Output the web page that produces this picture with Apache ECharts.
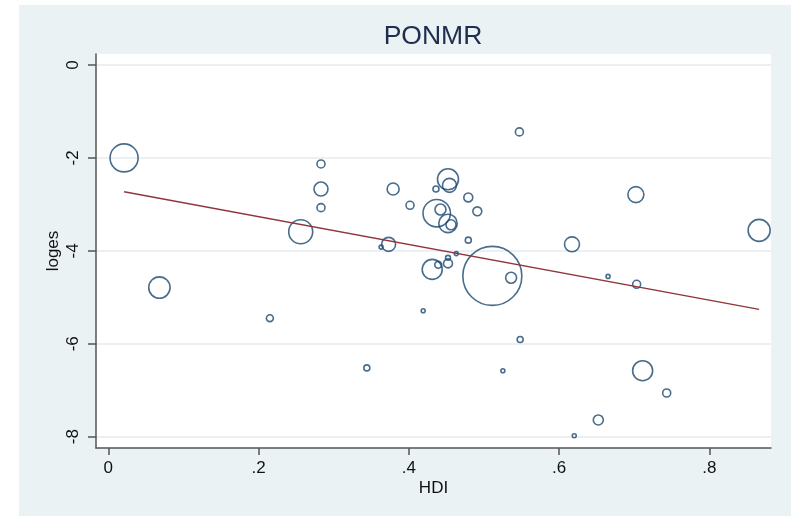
<!DOCTYPE html>
<html><head><meta charset="utf-8">
<script src="https://cdn.jsdelivr.net/npm/echarts@6/dist/echarts.min.js"></script>
<style>html,body{margin:0;padding:0;background:#fff}#c{width:795px;height:516px}</style>
</head><body><div id="c"></div>
<script>
// data
const hdi = [0.021,0.068,0.215,0.344,0.283,0.283,0.283,0.256,0.373,0.363,0.379,0.4015,0.452,0.454,0.436,0.479,0.491,0.437,0.442,0.452,0.456,0.479,0.463,0.452,0.452,0.439,0.431,0.511,0.536,0.547,0.702,0.866,0.617,0.665,0.703,0.419,0.548,0.525,0.711,0.743,0.652,0.620];
const loges = [-2.00,-4.79,-5.45,-6.52,-2.13,-2.67,-3.07,-3.59,-3.86,-3.92,-2.67,-3.02,-2.46,-2.59,-2.67,-2.85,-3.15,-3.19,-3.11,-3.41,-3.44,-3.77,-4.06,-4.15,-4.27,-4.30,-4.40,-4.54,-4.58,-1.44,-2.79,-3.56,-3.86,-4.55,-4.72,-5.29,-5.91,-6.58,-6.58,-7.06,-7.64,-7.98];
const weight = [196,114,12,9,16,49,16,144,49,4,36,16,110,49,9,20,20,188,30,85,25,9,4,6,20,12,100,870,30,16,64,121,56,4,16,4,9,4,100,16,25,4];
const fitX = [0.021, 0.866];
const fitY = [-2.73, -5.26];
const xTicks = [0, 0.2, 0.4, 0.6, 0.8];
const xTickLabels = ['0', '.2', '.4', '.6', '.8'];
const yTicks = [-8, -6, -4, -2, 0];

const pts = hdi.map((x, i) => [x, loges[i], weight[i]]);
const fit = fitX.map((x, i) => [x, fitY[i]]);

const chart = echarts.init(document.getElementById('c'), null, {renderer: 'canvas'});
const axisCol = '#555555';
const font = 'Liberation Sans, Arial, sans-serif';
chart.setOption({
  animation: false,
  backgroundColor: '#ffffff',
  graphic: [
    {type: 'rect', shape: {x: 19, y: 5, width: 772, height: 511}, style: {fill: '#eaf2f3'}, z: -10, silent: true},
    {type: 'text', x: 433, y: 37, style: {text: 'PONMR', fontSize: 26.5, fontFamily: font, fill: '#1e2d50', align: 'center', verticalAlign: 'middle'}, z: 10}
  ],
  grid: [
    {left: 96, right: 24, top: 54, bottom: 68, show: true, backgroundColor: '#ffffff', borderWidth: 0},
    {left: 96, right: 24, top: 65, bottom: 79.3},
    {left: 108.3, width: 601, top: 54, bottom: 68}
  ],
  xAxis: [
    {gridIndex: 0, type: 'value', min: -0.01637, max: 0.8818, axisLine: {show: true, onZero: false, lineStyle: {color: axisCol, width: 1.5}}, axisTick: {show: false}, axisLabel: {show: false}, splitLine: {show: false},
     name: 'HDI', nameLocation: 'middle', nameGap: 32, nameTextStyle: {fontSize: 17, fontFamily: font, color: '#111'}},
    {gridIndex: 1, type: 'value', show: false, min: 0, max: 1},
    {gridIndex: 2, type: 'value', min: 0, max: 0.8, interval: 0.2, axisLine: {show: false, onZero: false}, axisTick: {show: true, length: 7, lineStyle: {color: axisCol, width: 1.5}},
     axisLabel: {margin: 12, fontSize: 17, fontFamily: font, color: '#111', formatter: v => { const i = xTicks.findIndex(t => Math.abs(t - v) < 1e-9); return i >= 0 ? xTickLabels[i] : ''; }}, splitLine: {show: false}}
  ],
  yAxis: [
    {gridIndex: 0, type: 'value', min: -8.244, max: 0.2368, axisLine: {show: true, onZero: false, lineStyle: {color: axisCol, width: 1.5}}, axisTick: {show: false}, axisLabel: {show: false}, splitLine: {show: false},
     name: 'loges', nameLocation: 'middle', nameGap: 34, nameTextStyle: {fontSize: 17, fontFamily: font, color: '#111'}},
    {gridIndex: 1, type: 'value', min: yTicks[0], max: yTicks[yTicks.length - 1], interval: 2, axisLine: {show: false, onZero: false}, axisTick: {show: true, length: 8, lineStyle: {color: axisCol, width: 1.5}},
     axisLabel: {rotate: 90, margin: 14, fontSize: 17, fontFamily: font, color: '#111'}, splitLine: {show: true, lineStyle: {color: '#e4ecef', width: 1.5}}},
    {gridIndex: 2, type: 'value', show: false, min: 0, max: 1}
  ],
  series: [
    {type: 'scatter', xAxisIndex: 0, yAxisIndex: 0, data: pts, symbol: 'circle',
     symbolSize: d => 2 * Math.sqrt(d[2]),
     itemStyle: {color: 'rgba(0,0,0,0)', borderColor: '#1a476f', borderWidth: 1.6}, z: 3},
    {type: 'line', xAxisIndex: 0, yAxisIndex: 0, data: fit, showSymbol: false, symbol: 'none',
     lineStyle: {color: '#90353b', width: 1.5}, z: 4}
  ]
});
</script></body></html>
